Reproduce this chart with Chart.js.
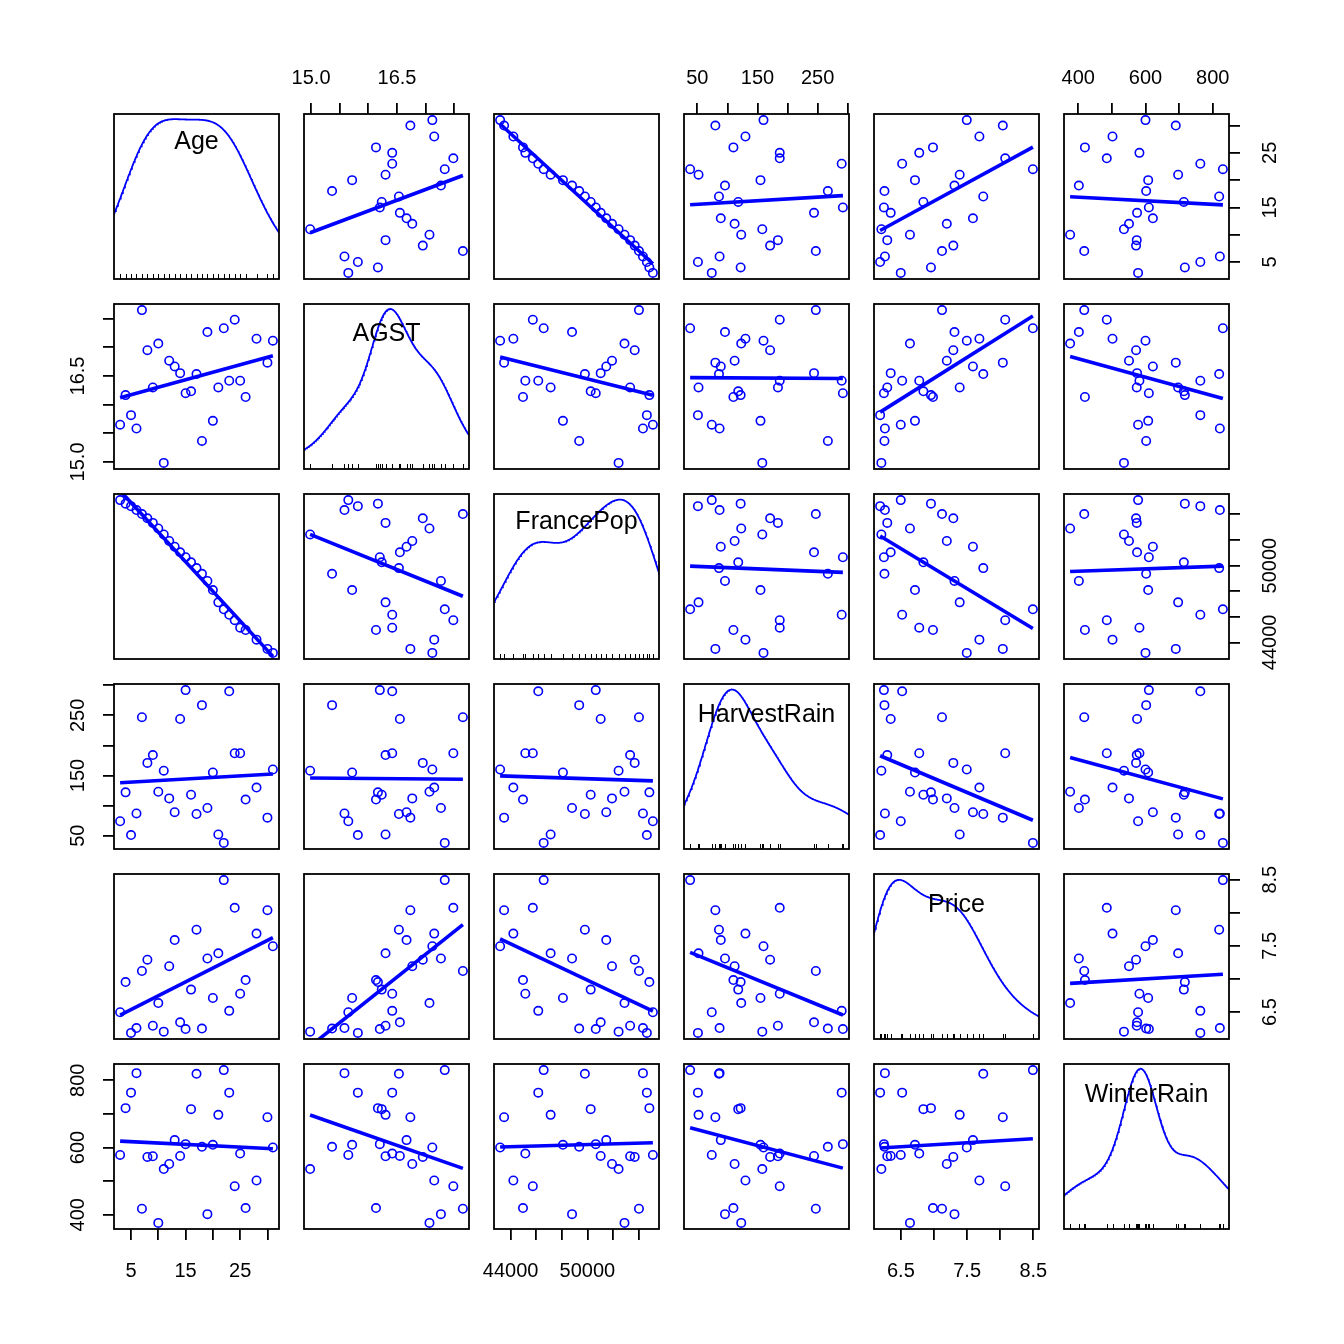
<!DOCTYPE html>
<html>
<head>
<meta charset="utf-8">
<title>Wine - scatterplot matrix</title>
<script src="https://cdn.jsdelivr.net/npm/chart.js@4.4.1/dist/chart.umd.min.js"></script>
<style>
    html, body { margin: 0; padding: 0; background: #fff; }
    #matrix { position: relative; width: 1344px; height: 1344px; }
    #matrix canvas { position: absolute; }
</style>
</head>
<body>
<div id="matrix"></div>
<script>
// --- Data: Bordeaux wine, vintages 1952-1980 ---
const varNames = ['Age', 'AGST', 'FrancePop', 'HarvestRain', 'Price', 'WinterRain'];

const age = [31, 30, 28, 26, 25, 24, 23, 22, 21, 20, 19, 18, 17, 16, 15, 14, 13, 12, 11, 10, 9, 8, 7, 6, 5, 4, 3];
const agst = [17.1167, 16.7333, 17.15, 16.1333, 16.4167, 17.4833, 16.4167, 17.3333, 16.3, 15.7167, 17.2667, 15.3667, 16.5333,
    16.2333, 16.2, 16.55, 16.6667, 16.7667, 14.9833, 17.0667, 16.3, 16.95, 17.65, 15.5833, 15.8167, 16.1667, 15.65];
const francePop = [43183.57, 43495.03, 44217.86, 44970.00, 45152.25, 45737.27, 46162.37, 46584.00, 47128.00, 48088.67,
    48798.99, 49356.94, 49801.82, 50254.97, 50650.41, 51034.41, 51470.28, 51918.39, 52431.65, 52894.18, 53332.81,
    53689.61, 54022.79, 54335.00, 54640.00, 54835.83, 55110.24];
const harvestRain = [160, 80, 130, 110, 187, 187, 290, 38, 52, 155, 96, 267, 86, 118, 292, 244, 89, 112, 158, 123, 184,
    171, 247, 87, 51, 122, 74];
const price = [7.4950, 8.0393, 7.6858, 6.9845, 6.7772, 8.0757, 6.5188, 8.4937, 7.3880, 6.7127, 7.3094, 6.2518, 7.7443,
    6.8398, 6.2435, 6.3459, 7.5883, 7.1934, 6.2049, 6.6367, 6.2941, 7.2920, 7.1211, 6.2587, 6.1860, 6.9541, 6.4979];
const winterRain = [600, 690, 502, 420, 582, 485, 763, 830, 697, 608, 402, 602, 819, 714, 610, 575, 622, 551, 536, 376,
    574, 572, 418, 821, 763, 717, 578];

// tick positions and the labels R kept (others were dropped for overlap)
const ageTicks = [5, 10, 15, 20, 25, 30];
const ageLabels = ['5', '', '15', '', '25', ''];
const agstTicks = [15, 15.5, 16, 16.5, 17, 17.5];
const agstLabels = ['15.0', '', '', '16.5', '', ''];
const popTicks = [44000, 46000, 48000, 50000, 52000, 54000];
const popLabels = ['44000', '', '', '50000', '', ''];
const harvestTicks = [50, 100, 150, 200, 250, 300];
const harvestLabels = ['50', '', '150', '', '250', ''];
const priceTicks = [6.5, 7, 7.5, 8, 8.5];
const priceLabels = ['6.5', '', '7.5', '', '8.5'];
const winterTicks = [400, 500, 600, 700, 800];
const winterLabels = ['400', '', '600', '', '800'];

const series = [age, agst, francePop, harvestRain, price, winterRain];
const tickVals = [ageTicks, agstTicks, popTicks, harvestTicks, priceTicks, winterTicks];
const tickLabels = [ageLabels, agstLabels, popLabels, harvestLabels, priceLabels, winterLabels];

// --- Layout ---
const PANEL = 165, STEP = 190, ORIGIN = 114, M = 60;
const BLUE = '#0000ff';
const FONT_FAMILY = '"Liberation Sans", Arial, Helvetica, sans-serif';
const AXIS_SIZE = 20, NAME_SIZE = 25;

// --- Helpers ---
const extendRange = (v) => {
    const lo = Math.min(...v), hi = Math.max(...v), d = (hi - lo) * 0.04;
    return [lo - d, hi + d];
};

const quantile = (sorted, p) => {
    const h = (sorted.length - 1) * p, i = Math.floor(h);
    const next = i + 1 < sorted.length ? sorted[i + 1] : sorted[i];
    return sorted[i] + (h - i) * (next - sorted[i]);
};

// R's bw.nrd0
function bandwidth(v) {
    const n = v.length;
    const mean = v.reduce((a, b) => a + b, 0) / n;
    const sd = Math.sqrt(v.reduce((a, b) => a + (b - mean) ** 2, 0) / (n - 1));
    const s = [...v].sort((a, b) => a - b);
    const iqr = quantile(s, 0.75) - quantile(s, 0.25);
    const lo = Math.min(sd, iqr / 1.34) || sd || 1;
    return 0.9 * lo * Math.pow(n, -0.2);
}

const gauss = (z) => Math.exp(-0.5 * z * z) / Math.sqrt(2 * Math.PI);

// adaptive kernel density (pilot estimate -> local bandwidths),
// rescaled into the variable's own range as car's diagonal panel does
function densityCurve(v) {
    const bw = bandwidth(v);
    const lo = Math.min(...v), hi = Math.max(...v);
    const pilot = v.map(xi => v.reduce((s, xj) => s + gauss((xi - xj) / bw), 0) / (v.length * bw));
    const g = Math.exp(pilot.reduce((s, f) => s + Math.log(f), 0) / pilot.length);
    const h = pilot.map(f => bw * Math.sqrt(g / f));

    const from = lo - 3 * bw, to = hi + 3 * bw, steps = 400;
    const raw = [];
    for (let k = 0; k < steps; k++) {
        const x = from + (to - from) * k / (steps - 1);
        let d = 0;
        v.forEach((xi, i) => { d += gauss((x - xi) / h[i]) / h[i]; });
        raw.push({ x, d: d / v.length });
    }
    const ds = raw.map(p => p.d);
    const span = Math.max(...ds) - Math.min(...ds);
    return raw.map(p => ({ x: p.x, y: lo + p.d * (hi - lo) / span }));
}

// least squares line of ys on xs, drawn over the range of xs
function fitLine(xs, ys) {
    const n = xs.length;
    const mx = xs.reduce((a, b) => a + b, 0) / n, my = ys.reduce((a, b) => a + b, 0) / n;
    let sxy = 0, sxx = 0;
    xs.forEach((x, i) => { sxy += (x - mx) * (ys[i] - my); sxx += (x - mx) ** 2; });
    const b = sxy / sxx, a = my - b * mx;
    const x0 = Math.min(...xs), x1 = Math.max(...xs);
    return [{ x: x0, y: a + b * x0 }, { x: x1, y: a + b * x1 }];
}

function scaleOptions(v, position, show) {
    const [lo, hi] = extendRange(series[v]);
    const horizontal = position === 'top' || position === 'bottom';
    return {
        type: 'linear',
        position: position,
        display: show,
        min: lo,
        max: hi,
        afterBuildTicks: (s) => { s.ticks = tickVals[v].map(t => ({ value: t })); },
        afterFit: (s) => { if (!show) return; if (horizontal) s.height = M; else s.width = M; },
        grid: {
            drawOnChartArea: false,
            drawTicks: true,
            tickLength: 11,
            lineWidth: 1.8,
            tickWidth: 1.8,
            color: '#000',
            tickColor: '#000'
        },
        border: { display: false },
        ticks: { display: false }
    };
}

// --- Build the matrix ---
const matrix = document.getElementById('matrix');

series.forEach((yVals, r) => {
    series.forEach((xVals, c) => {
        const canvas = document.createElement('canvas');
        canvas.width = PANEL + 2 * M;
        canvas.height = PANEL + 2 * M;
        canvas.style.left = (ORIGIN + c * STEP - M) + 'px';
        canvas.style.top = (ORIGIN + r * STEP - M) + 'px';
        matrix.appendChild(canvas);

        const xPos = (r === 0 && c % 2 === 1) ? 'top' : ((r === 5 && c % 2 === 0) ? 'bottom' : null);
        const yPos = (c === 0 && r % 2 === 1) ? 'left' : ((c === 5 && r % 2 === 0) ? 'right' : null);
        const diagonal = r === c;

        let datasets;
        if (diagonal) {
            datasets = [{
                data: densityCurve(xVals),
                showLine: true,
                borderColor: BLUE,
                borderWidth: 1.8,
                pointRadius: 0,
                tension: 0
            }];
        } else {
            datasets = [{
                data: fitLine(xVals, yVals),
                showLine: true,
                borderColor: BLUE,
                borderWidth: 3.6,
                pointRadius: 0
            }, {
                data: xVals.map((x, i) => ({ x: x, y: yVals[i] })),
                pointStyle: 'circle',
                pointRadius: 4.2,
                borderColor: BLUE,
                borderWidth: 1.6,
                backgroundColor: 'rgba(0,0,0,0)'
            }];
        }

        const panelDecor = {
            id: 'panelDecor',
            afterDraw(chart) {
                const ctx = chart.ctx, a = chart.chartArea;
                ctx.save();
                ctx.fillStyle = '#000';
                ctx.strokeStyle = '#000';

                // rug and variable name on the diagonal
                if (diagonal) {
                    ctx.lineWidth = 1;
                    xVals.forEach(v => {
                        const px = Math.round(chart.scales.x.getPixelForValue(v)) + 0.5;
                        ctx.beginPath();
                        ctx.moveTo(px, a.bottom);
                        ctx.lineTo(px, a.bottom - 5);
                        ctx.stroke();
                    });
                    ctx.font = NAME_SIZE + 'px ' + FONT_FAMILY;
                    ctx.textAlign = 'center';
                    ctx.textBaseline = 'alphabetic';
                    const m = ctx.measureText(varNames[c]);
                    const base = a.top + 28.2 + (m.actualBoundingBoxAscent - m.actualBoundingBoxDescent) / 2;
                    ctx.fillText(varNames[c], (a.left + a.right) / 2, base);
                }

                // frame
                ctx.lineWidth = 1.8;
                ctx.strokeRect(a.left, a.top, a.right - a.left, a.bottom - a.top);

                // tick labels
                ctx.font = AXIS_SIZE + 'px ' + FONT_FAMILY;
                ctx.textAlign = 'center';
                ctx.textBaseline = 'alphabetic';
                const half = 0.358 * AXIS_SIZE;
                if (xPos) {
                    const s = chart.scales.x;
                    tickVals[c].forEach((t, i) => {
                        const lab = tickLabels[c][i];
                        if (!lab) return;
                        const cy = xPos === 'top' ? a.top - 37 : a.bottom + 40.5;
                        ctx.fillText(lab, s.getPixelForValue(t), cy + half);
                    });
                }
                if (yPos) {
                    const s = chart.scales.y;
                    tickVals[r].forEach((t, i) => {
                        const lab = tickLabels[r][i];
                        if (!lab) return;
                        const cx = yPos === 'left' ? a.left - 37 : a.right + 40;
                        ctx.save();
                        ctx.translate(cx + half, s.getPixelForValue(t));
                        ctx.rotate(-Math.PI / 2);
                        ctx.fillText(lab, 0, 0);
                        ctx.restore();
                    });
                }
                ctx.restore();
            }
        };

        new Chart(canvas, {
            type: 'scatter',
            data: { datasets: datasets },
            options: {
                responsive: false,
                animation: false,
                events: [],
                layout: {
                    autoPadding: false,
                    padding: {
                        top: xPos === 'top' ? 0 : M,
                        bottom: xPos === 'bottom' ? 0 : M,
                        left: yPos === 'left' ? 0 : M,
                        right: yPos === 'right' ? 0 : M
                    }
                },
                plugins: {
                    legend: { display: false },
                    tooltip: { enabled: false }
                },
                scales: {
                    x: scaleOptions(c, xPos || 'bottom', !!xPos),
                    y: scaleOptions(r, yPos || 'left', !!yPos)
                }
            },
            plugins: [panelDecor]
        });
    });
});
</script>
</body>
</html>
